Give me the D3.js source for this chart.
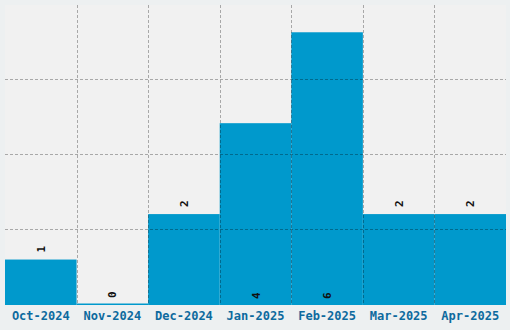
<!DOCTYPE html>
<html>
<head>
<meta charset="utf-8">
<script src="https://cdn.jsdelivr.net/npm/d3@7"></script>
<style>
  body { margin: 0; background: #edf0f1; }
  svg { display: block; }
</style>
</head>
<body>
<script>
// months and counts
const months = ["Oct-2024", "Nov-2024", "Dec-2024", "Jan-2025", "Feb-2025", "Mar-2025", "Apr-2025"];
const counts = [1, 0, 2, 4, 6, 2, 2];
const gridFractions = [0.25, 0.5, 0.75];

const W = 510, H = 330;
const m = {top: 5, right: 4, bottom: 25, left: 5};
const iw = W - m.left - m.right, ih = H - m.top - m.bottom;

const svg = d3.select("body").append("svg")
  .attr("width", W)
  .attr("height", H);

const g = svg.append("g").attr("transform", `translate(${m.left},${m.top})`);

g.append("rect")
  .attr("width", iw)
  .attr("height", ih)
  .attr("fill", "#f1f1f1");

const x = d3.scaleBand().domain(months).range([0, iw]).padding(0);
const y = d3.scaleLinear().domain([0, d3.max(counts) * 1.1]).range([ih, 0]);

const data = months.map((mo, i) => ({month: mo, value: counts[i]}));

// bars
g.selectAll("rect.bar")
  .data(data)
  .enter()
    .append("rect")
    .attr("class", "bar")
    .attr("x", d => x(d.month))
    .attr("width", x.bandwidth())
    .attr("y", d => Math.min(y(d.value), ih - 1.5))
    .attr("height", d => Math.max(ih - y(d.value), 1.5))
    .attr("fill", "#0099cc");

// grid on top
const grid = g.append("g")
  .attr("stroke", "rgba(0,0,0,0.3)")
  .attr("stroke-dasharray", "3,2")
  .attr("stroke-width", 1);

grid.selectAll("line.v")
  .data(months.slice(1))
  .enter()
    .append("line")
    .attr("x1", d => Math.round(x(d)) + 0.5)
    .attr("x2", d => Math.round(x(d)) + 0.5)
    .attr("y1", 0)
    .attr("y2", ih);

grid.selectAll("line.h")
  .data(gridFractions)
  .enter()
    .append("line")
    .attr("x1", 0)
    .attr("x2", iw)
    .attr("y1", d => Math.round(ih * d) - 0.5)
    .attr("y2", d => Math.round(ih * d) - 0.5);

// value labels
g.selectAll("text.val")
  .data(data)
  .enter()
    .append("text")
    .attr("class", "val")
    .attr("transform", d => {
      const top = y(d.value);
      const ty = (ih - top > 120) ? ih - 6 : top - 7;
      return `translate(${x(d.month) + x.bandwidth() / 2 + 4},${ty}) rotate(-90)`;
    })
    .attr("text-anchor", "start")
    .attr("font-family", "DejaVu Sans Mono, monospace")
    .attr("font-weight", "bold")
    .attr("font-size", 11)
    .attr("fill", "#111")
    .text(d => d.value);

// x axis labels
const xAxis = g.append("g")
  .attr("transform", `translate(0,${ih})`)
  .call(d3.axisBottom(x).tickSize(0).tickPadding(6));

xAxis.select(".domain").remove();
xAxis.selectAll("text")
  .attr("font-family", "DejaVu Sans Mono, monospace")
  .attr("font-weight", "bold")
  .attr("font-size", 12)
  .attr("fill", "#0d6a9e");
</script>
</body>
</html>
